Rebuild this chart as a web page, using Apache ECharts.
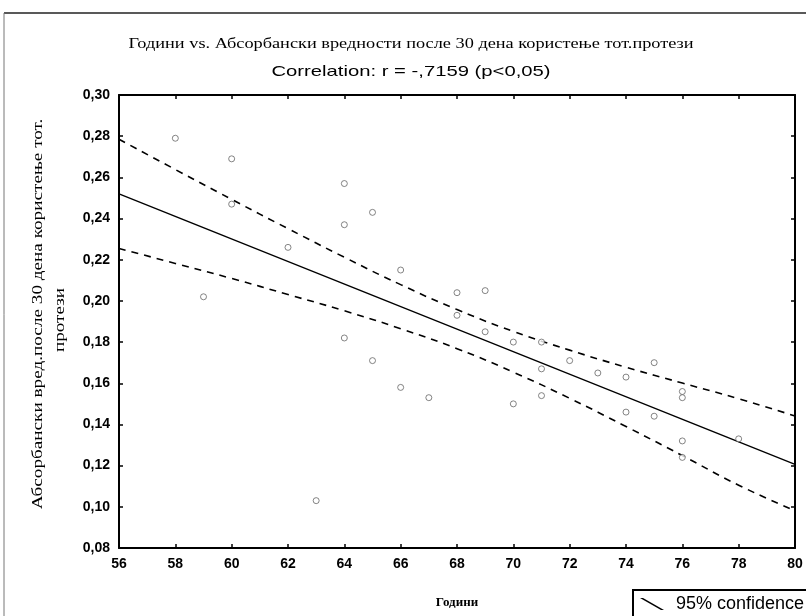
<!DOCTYPE html>
<html>
<head>
<meta charset="utf-8">
<script src="https://cdn.jsdelivr.net/npm/echarts@6/dist/echarts.min.js"></script>
<style>html,body{margin:0;padding:0;background:#fff}#c{width:806px;height:616px}</style>
</head>
<body>
<div id="c"></div>
<script>
// ---- data ----
const ageX = [58,59,60,60,62,63,64,64,64,65,65,66,66,67,68,68,69,69,70,70,71,71,71,72,73,74,74,75,75,76,76,76,76,78];
const absY = [0.279,0.202,0.269,0.247,0.226,0.103,0.257,0.237,0.182,0.243,0.171,0.215,0.158,0.153,0.204,0.193,0.205,0.185,0.180,0.150,0.180,0.167,0.154,0.171,0.165,0.163,0.146,0.170,0.144,0.156,0.153,0.132,0.124,0.133];
const regX = [56, 80];
const regY = [0.252, 0.1206];
const ciX = [56,58,60,62,64,66,68,70,72,74,76,78,80];
const ciUpper = [0.2785,0.2638,0.2493,0.2351,0.2212,0.2079,0.1958,0.1852,0.1761,0.1678,0.1601,0.1525,0.1441];
const ciLower = [0.2255,0.2182,0.2109,0.2031,0.1952,0.1865,0.1768,0.1654,0.1527,0.1390,0.1249,0.1105,0.0981];
const titleText = 'Години vs. Абсорбански вредности после 30 дена користење тот.протези';
const subtitleText = 'Correlation: r = -,7159 (p<0,05)';
const xTitle = 'Години';
const yTitle1 = 'Абсорбански вред.после 30 дена користење тот.';
const yTitle2 = 'протези';
const legendName = '95% confidence';

const zip = (a, b) => a.map((v, i) => [v, b[i]]);
const SANS = '"Liberation Sans", Arial, sans-serif';
const SERIF = '"Liberation Serif", "Times New Roman", serif';

const chart = echarts.init(document.getElementById('c'), null, {renderer: 'canvas'});
const axisCommon = {
  axisLine: {show: true, onZero: false, lineStyle: {color: '#000', width: 2}},
  axisTick: {show: true, inside: true, length: 4, lineStyle: {color: '#000', width: 1.5}},
  splitLine: {show: false}
};
const xBase = Object.assign({type: 'value', min: 56, max: 80, interval: 2}, axisCommon);
const yBase = Object.assign({type: 'value', min: 0.08, max: 0.30, interval: 0.02}, axisCommon);

chart.setOption({
  animation: false,
  backgroundColor: '#fff',
  grid: {left: 119, right: 11, top: 95, bottom: 68},
  xAxis: [
    Object.assign({}, xBase, {position: 'bottom',
      axisLabel: {color: '#000', fontFamily: SANS, fontSize: 14, fontWeight: 'bold', margin: 9},
      name: xTitle, nameLocation: 'middle', nameGap: 48,
      nameTextStyle: {fontFamily: SERIF, fontSize: 13, fontWeight: 'bold', color: '#000'}}),
    Object.assign({}, xBase, {position: 'top', axisLabel: {show: false}})
  ],
  yAxis: [
    Object.assign({}, yBase, {position: 'left',
      axisLabel: {color: '#000', fontFamily: SANS, fontSize: 14, fontWeight: 'bold', margin: 9,
        formatter: v => v.toFixed(2).replace('.', ',')}}),
    Object.assign({}, yBase, {position: 'right', axisLabel: {show: false}})
  ],
  legend: {
    left: 633, top: 590, orient: 'horizontal',
    data: [{name: legendName, icon: 'path://M0,0 L3,0 L24,12 L21,12 Z'}],
    itemWidth: 38, itemHeight: 12, itemGap: 6,
    padding: [5, 10, 8, 7],
    borderColor: '#000', borderWidth: 2,
    textStyle: {fontFamily: SANS, fontSize: 18, color: '#000'},
    itemStyle: {color: '#000'}
  },
  series: [
    {type: 'scatter', data: zip(ageX, absY), symbol: 'circle', symbolSize: 6,
      itemStyle: {color: '#fff', borderColor: '#555', borderWidth: 0.9}, z: 3},
    {type: 'line', data: zip(regX, regY), showSymbol: false, symbol: 'none',
      lineStyle: {color: '#000', width: 1.4}, z: 2},
    {type: 'line', name: legendName, data: zip(ciX, ciUpper), smooth: true, symbol: 'none',
      lineStyle: {color: '#000', width: 1.6, type: [7, 6]}, z: 2},
    {type: 'line', name: legendName, data: zip(ciX, ciLower), smooth: true, symbol: 'none',
      lineStyle: {color: '#000', width: 1.6, type: [7, 6]}, z: 2}
  ],
  graphic: [
    {type: 'line', shape: {x1: 4, y1: 13, x2: 806, y2: 13}, style: {stroke: '#222', lineWidth: 1.5}},
    {type: 'line', shape: {x1: 4, y1: 13, x2: 4, y2: 616}, style: {stroke: '#777', lineWidth: 1}},
    {type: 'text', x: 411, y: 44, scaleX: 1.22, style: {text: titleText, font: '15px ' + SERIF, fill: '#000', textAlign: 'center', textVerticalAlign: 'middle'}},
    {type: 'text', x: 411, y: 72, scaleX: 1.35, style: {text: subtitleText, font: '15px ' + SANS, fill: '#000', textAlign: 'center', textVerticalAlign: 'middle'}},
    {type: 'text', x: 38, y: 314, rotation: Math.PI / 2, scaleX: 1.28, style: {text: yTitle1, font: '15px ' + SERIF, fill: '#000', textAlign: 'center', textVerticalAlign: 'middle'}},
    {type: 'text', x: 60, y: 320, rotation: Math.PI / 2, scaleX: 1.28, style: {text: yTitle2, font: '15px ' + SERIF, fill: '#000', textAlign: 'center', textVerticalAlign: 'middle'}}
  ]
});
</script>
</body>
</html>
